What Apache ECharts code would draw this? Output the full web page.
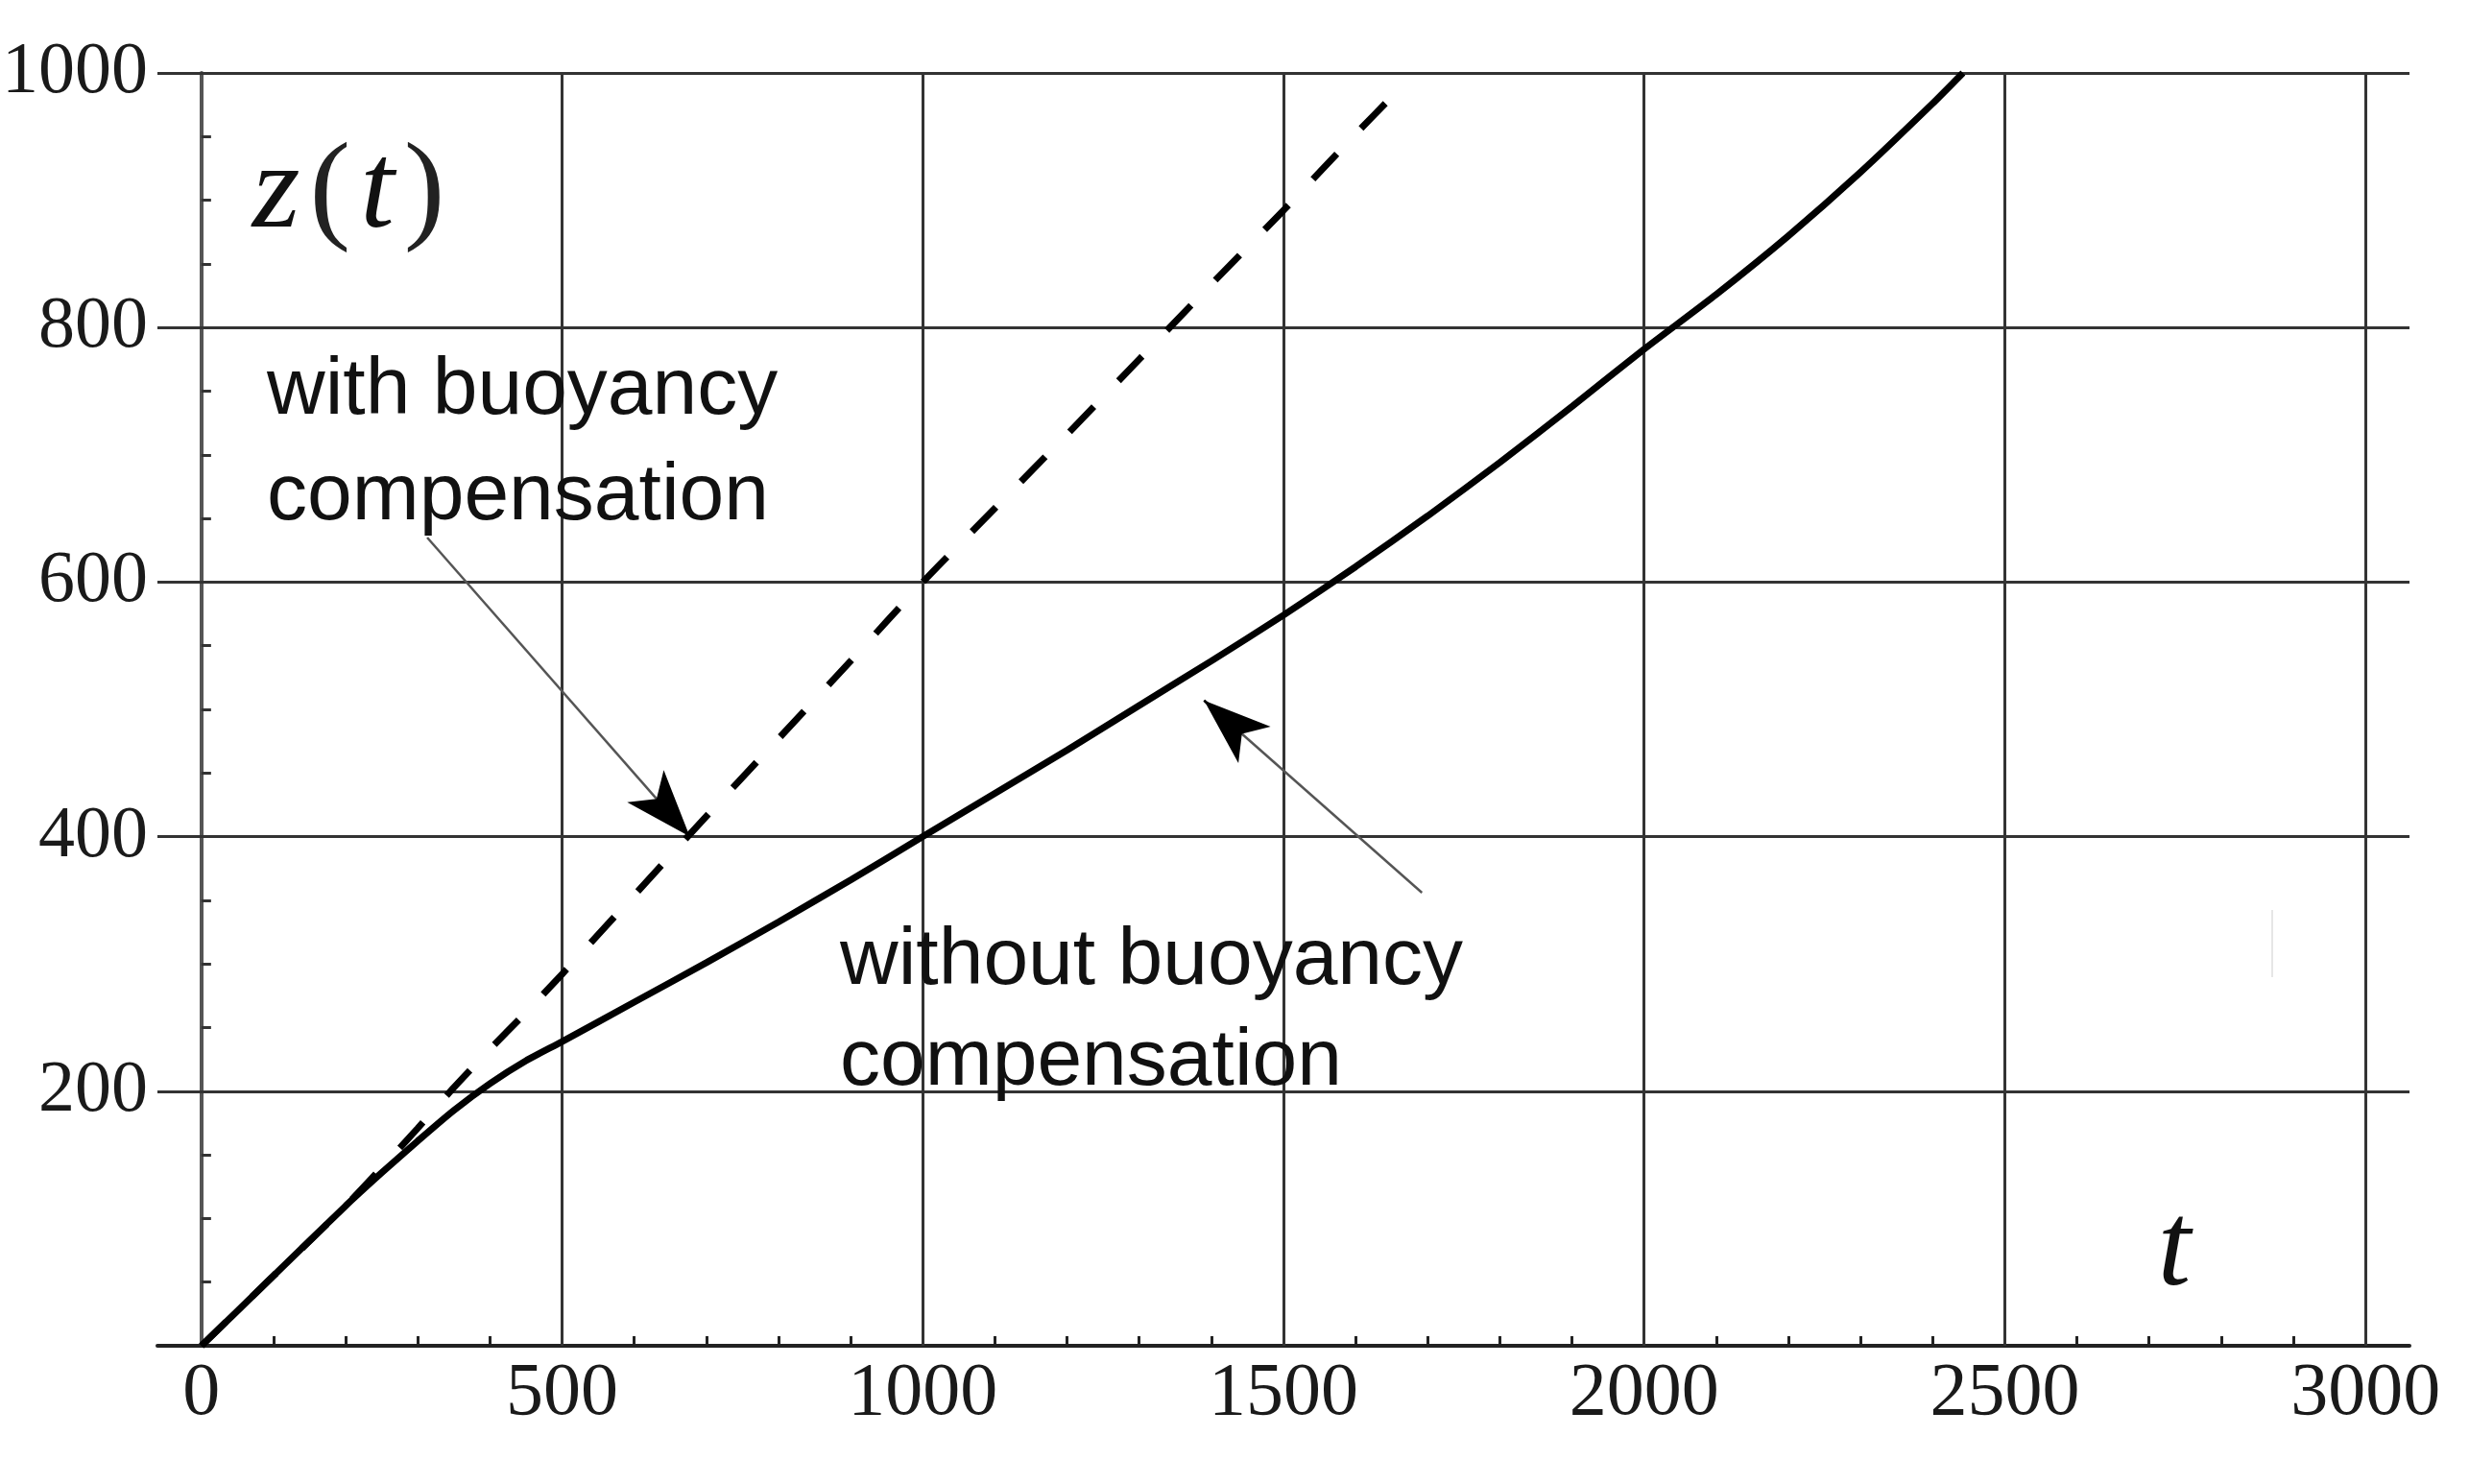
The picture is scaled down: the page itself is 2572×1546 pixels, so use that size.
<!DOCTYPE html>
<html><head><meta charset="utf-8">
<script src="https://cdn.jsdelivr.net/npm/echarts@6/dist/echarts.min.js"></script>
<style>html,body{margin:0;padding:0;background:#fff}#c{width:2572px;height:1546px}</style>
</head><body><div id="c"></div>
<script>
// --- data ---
const tWithout = [0,100,200,250,300,350,400,450,500,600,700,800,900,1000,1100,1200,1300,1400,1500,1600,1700,1800,1900,2000,2100,2200,2300,2400,2442];
const zWithout = [0,55,110,136,161,185,206,224,239,270,301,333,366,400,434,468,503,538,574,612,652,694,738,783,826,872,922,976,1000];
const tWith = [0,100,200,250,300,350,400,450,500,600,700,800,900,1000,1100,1200,1300,1400,1500,1600,1655];
const zWith = [0,55,110,140,171,203,233,262,292,354,416,477,538,600,658,716,775,834,892,952,984];
const xTickLabels = [0,500,1000,1500,2000,2500,3000];
const yTickLabels = [200,400,600,800,1000];
const xGridValues = [500,1000,1500,2000,2500,3000];
const yGridValues = [200,400,600,800,1000];
const arrowWith = [[313,635],[677,400]];
const arrowWithout = [[1692,356],[1390,507]];

const xMinor = []; for (let v = 100; v < 3000; v += 100) xMinor.push(v);
const yMinor = []; for (let v = 50; v < 1000; v += 50) yMinor.push(v);

const pairs = (ts, zs) => ts.map((t, i) => [t, zs[i]]);
// point a little before the tip, on the same arrow line (for the black head)
const nearTip = (a) => [a[0][0] + 0.92 * (a[1][0] - a[0][0]), a[0][1] + 0.92 * (a[1][1] - a[0][1])];

const chart = echarts.init(document.getElementById('c'), null, {renderer: 'canvas'});
const serif = 'Liberation Serif';
const sans = 'Liberation Sans';

chart.setOption({
  animation: false,
  backgroundColor: '#ffffff',
  grid: {left: 164, right: 62, top: 76, bottom: 144, containLabel: false, outerBoundsMode: 'none'},
  xAxis: {
    type: 'value', min: -61, max: 3061,
    axisLine: {show: true, onZero: true, lineStyle: {color: '#222', width: 4}},
    axisTick: {show: true, inside: true, length: 10, customValues: xMinor, lineStyle: {color: '#222', width: 3}},
    axisLabel: {customValues: xTickLabels, formatter: v => String(v), margin: 12, fontFamily: serif, fontSize: 78, color: '#1a1a1a'},
    splitLine: {show: false}
  },
  yAxis: {
    type: 'value', min: 0, max: 1000,
    axisLine: {show: true, onZero: true, lineStyle: {color: '#555', width: 4}},
    axisTick: {show: true, inside: true, length: 10, customValues: yMinor, lineStyle: {color: '#333', width: 3}},
    axisLabel: {customValues: yTickLabels, formatter: v => String(v), margin: 10, fontFamily: serif, fontSize: 76, color: '#1a1a1a'},
    splitLine: {show: false}
  },
  graphic: [
    {type: 'rect', z: 2, shape: {x: 250, y: 363, width: 760, height: 187}, style: {fill: '#fff'}, silent: true},
    {type: 'rect', z: 2, shape: {x: 870, y: 932, width: 1497, height: 100}, style: {fill: '#fff'}, silent: true},
    {type: 'line', z: 2, shape: {x1: 2367, y1: 948, x2: 2367, y2: 1018}, style: {stroke: '#e6e6e6', lineWidth: 2}, silent: true},
    {type: 'text', z: 20, style: {x: 278, y: 353, text: 'with buoyancy\ncompensation', fontFamily: sans, fontSize: 84, lineHeight: 110, fill: '#111', align: 'left', verticalAlign: 'top'}},
    {type: 'text', z: 20, style: {x: 875, y: 949, text: 'without buoyancy\ncompensation', fontFamily: sans, fontSize: 84, lineHeight: 105, fill: '#111', align: 'left', verticalAlign: 'top'}},
    {type: 'text', z: 20, style: {x: 362, y: 202, text: '{i|z}{p|(}{i|t}{p|)}', align: 'center', verticalAlign: 'middle',
      rich: {i: {fontFamily: serif, fontStyle: 'italic', fontSize: 128, fill: '#111', padding: [0, 6]}, p: {fontFamily: serif, fontSize: 128, fill: '#222', padding: [0, 4]}}}},
    {type: 'text', z: 20, style: {x: 2265, y: 1305, text: 't', fontFamily: serif, fontStyle: 'italic', fontSize: 124, fill: '#111', align: 'center', verticalAlign: 'middle'}}
  ],
  series: [
    {
      type: 'line', z: 1, data: [], silent: true,
      markLine: {
        silent: true, symbol: 'none', animation: false, label: {show: false}, emphasis: {disabled: true},
        lineStyle: {color: '#333', width: 3, type: 'solid'},
        data: [...xGridValues.map(v => ({xAxis: v})), ...yGridValues.map(v => ({yAxis: v}))]
      }
    },
    {
      name: 'with buoyancy compensation', type: 'line', z: 5,
      data: pairs(tWith, zWith), showSymbol: false, smooth: 0.2,
      lineStyle: {color: '#000', width: 7, type: [36, 37]}
    },
    {
      name: 'without buoyancy compensation', type: 'line', z: 6,
      data: pairs(tWithout, zWithout), showSymbol: false, smooth: 0.2,
      lineStyle: {color: '#000', width: 7, type: 'solid'}
    },
    {
      name: 'arrows', type: 'line', z: 7, data: [], silent: true,
      markLine: {
        silent: true, animation: false, label: {show: false}, emphasis: {disabled: true},
        symbol: 'none',
        lineStyle: {color: '#555', width: 2.5, type: 'solid'},
        data: [
          [{coord: arrowWith[0]}, {coord: arrowWith[1]}],
          [{coord: arrowWithout[0]}, {coord: arrowWithout[1]}],
          [{coord: nearTip(arrowWith), symbol: 'none', lineStyle: {color: '#000', width: 2.5}},
           {coord: arrowWith[1], symbol: 'arrow', symbolSize: [38, 70]}],
          [{coord: nearTip(arrowWithout), symbol: 'none', lineStyle: {color: '#000', width: 2.5}},
           {coord: arrowWithout[1], symbol: 'arrow', symbolSize: [38, 70]}]
        ]
      }
    }
  ]
});
</script></body></html>
